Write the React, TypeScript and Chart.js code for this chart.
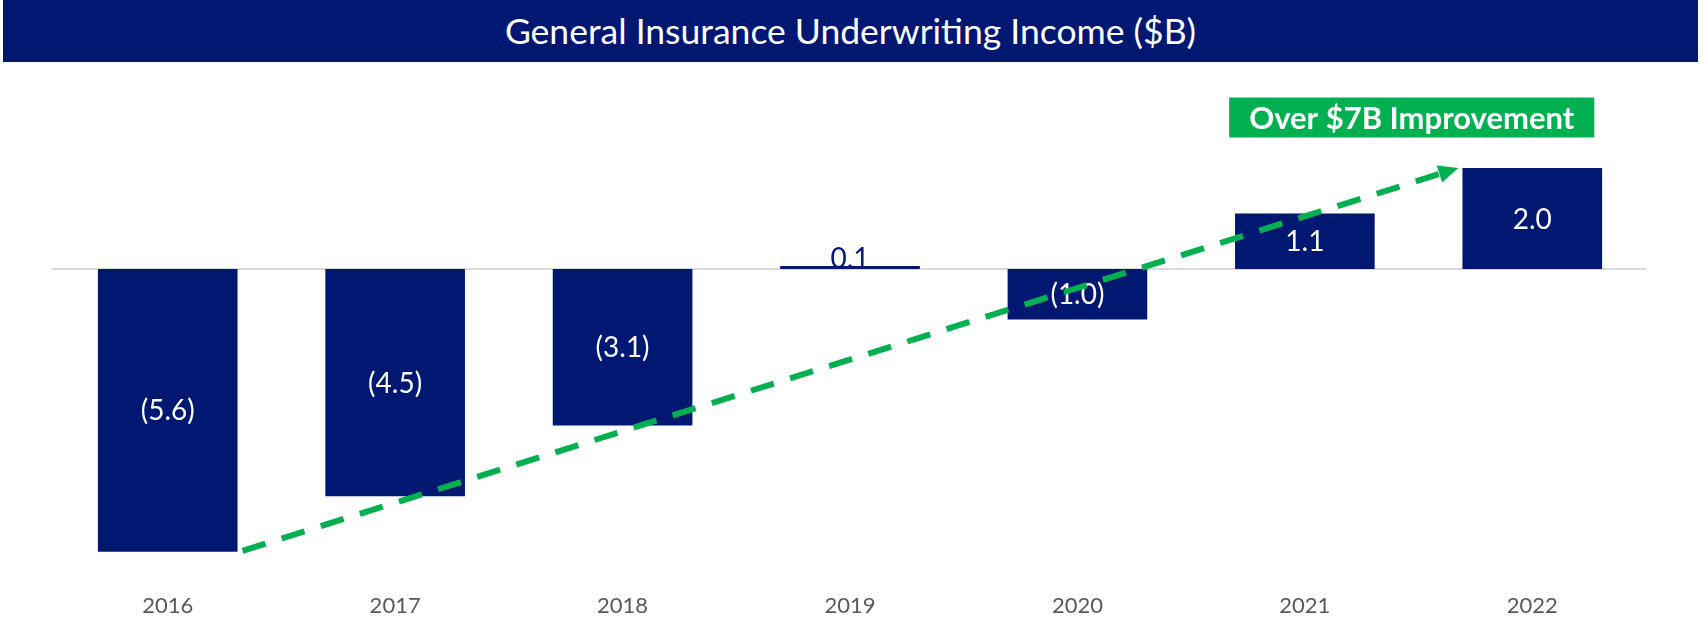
import React, { useEffect, useRef } from "react";
import { Chart, registerables } from "chart.js";

Chart.register(...registerables);

// ---- data ----
const years: string[] = ["2016", "2017", "2018", "2019", "2020", "2021", "2022"];
const income: number[] = [-5.6, -4.5, -3.1, 0.06, -1.0, 1.1, 2.0];
const titleText = "General Insurance Underwriting Income ($B)";
const calloutText = "Over $7B Improvement";
const calloutAnchor = { x: 5.47, y: 3.0 };
const yMin = -6;
const yMax = 4;

// ---- styles ----
const NAVY = "#001871";
const GREEN = "#00B050";
const FONT = "Lato, 'Noto Sans', sans-serif";

function fmt(v: number): string {
  const s = Math.abs(v).toFixed(1);
  return v < 0 ? `(${s})` : s;
}

const zeroLinePlugin = {
  id: "zeroLine",
  beforeDatasetsDraw(chart: any) {
    const { ctx, chartArea, scales } = chart;
    const y0 = scales.y.getPixelForValue(0);
    ctx.save();
    ctx.strokeStyle = "#D9D9D9";
    ctx.lineWidth = 2;
    ctx.beginPath();
    ctx.moveTo(chartArea.left - 2, y0);
    ctx.lineTo(chartArea.right, y0);
    ctx.stroke();
    ctx.restore();
  },
};

const valueLabelPlugin = {
  id: "valueLabels",
  afterDatasetsDraw(chart: any) {
    const { ctx } = chart;
    const meta = chart.getDatasetMeta(0);
    const data = chart.data.datasets[0].data as number[];
    ctx.save();
    ctx.font = `28px ${FONT}`;
    ctx.textAlign = "center";
    meta.data.forEach((el: any, i: number) => {
      const { x, y, base } = el.getProps(["x", "y", "base"], true);
      const h = Math.abs(base - y);
      const txt = fmt(data[i]);
      if (h > 30) {
        ctx.fillStyle = "#FFFFFF";
        ctx.textBaseline = "middle";
        ctx.fillText(txt, x, (y + base) / 2 + 1);
      } else {
        ctx.fillStyle = NAVY;
        ctx.textBaseline = "alphabetic";
        ctx.fillText(txt, x, Math.min(y, base) + 2);
      }
    });
    ctx.restore();
  },
};

const arrowPlugin = {
  id: "trendArrow",
  afterDraw(chart: any) {
    const { ctx, scales } = chart;
    const meta = chart.getDatasetMeta(0);
    const first = meta.data[0].getProps(["x", "y", "base", "width"], true);
    const last = meta.data[meta.data.length - 1].getProps(["x", "y", "base", "width"], true);
    const sx = first.x + first.width / 2 + 5;
    const sy = Math.max(first.y, first.base) - 1;
    const tx = last.x - last.width / 2 - 4;
    const ty = Math.min(last.y, last.base);
    const dx = tx - sx;
    const dy = ty - sy;
    const len = Math.hypot(dx, dy);
    const ux = dx / len;
    const uy = dy / len;
    const headL = 20;
    const headW = 9;
    const bx = tx - ux * headL;
    const by = ty - uy * headL;

    ctx.save();
    ctx.strokeStyle = GREEN;
    ctx.lineWidth = 6;
    ctx.setLineDash([24, 17]);
    ctx.beginPath();
    ctx.moveTo(sx, sy);
    ctx.lineTo(bx, by);
    ctx.stroke();
    ctx.setLineDash([]);
    ctx.fillStyle = GREEN;
    ctx.beginPath();
    ctx.moveTo(tx, ty);
    ctx.lineTo(bx - uy * headW, by + ux * headW);
    ctx.lineTo(bx + uy * headW, by - ux * headW);
    ctx.closePath();
    ctx.fill();

    // callout box
    const cx = scales.x.getPixelForValue(calloutAnchor.x);
    const cy = scales.y.getPixelForValue(calloutAnchor.y);
    ctx.font = `bold 31px ${FONT}`;
    const tw = ctx.measureText(calloutText).width;
    const bw = tw + 40;
    const bh = 40;
    ctx.fillStyle = GREEN;
    ctx.fillRect(cx - bw / 2, cy - bh / 2, bw, bh);
    ctx.fillStyle = "#FFFFFF";
    ctx.textAlign = "center";
    ctx.textBaseline = "middle";
    ctx.fillText(calloutText, cx, cy + 1);
    ctx.restore();
  },
};

export default function App() {
  const canvasRef = useRef<HTMLCanvasElement | null>(null);

  useEffect(() => {
    document.body.style.margin = "0";
    const canvas = canvasRef.current;
    if (!canvas) return;
    const chart = new Chart(canvas, {
      type: "bar",
      data: {
        labels: years,
        datasets: [
          {
            data: income,
            backgroundColor: NAVY,
            borderWidth: 0,
            barPercentage: 0.614,
            categoryPercentage: 1,
          },
        ],
      },
      options: {
        animation: false,
        responsive: false,
        devicePixelRatio: 1,
        layout: { padding: { left: 54, right: 55, top: 67, bottom: 0 } },
        plugins: {
          legend: { display: false },
          tooltip: { enabled: false },
          title: { display: false },
        },
        scales: {
          x: {
            grid: { display: false, drawTicks: false },
            border: { display: false },
            ticks: {
              color: "#595959",
              font: { family: FONT, size: 22 },
              padding: 21,
            },
            afterFit(axis: any) {
              axis.height = 49;
            },
          },
          y: {
            display: false,
            min: yMin,
            max: yMax,
          },
        },
      },
      plugins: [zeroLinePlugin, valueLabelPlugin, arrowPlugin],
    });
    return () => chart.destroy();
  }, []);

  return (
    <div style={{ position: "relative", width: 1701, height: 621, background: "#FFFFFF" }}>
      <canvas
        ref={canvasRef}
        width={1701}
        height={621}
        style={{ position: "absolute", left: 0, top: 0, display: "block" }}
      />
      <div
        style={{
          position: "absolute",
          left: 3,
          top: 0,
          width: 1695,
          height: 62,
          background: NAVY,
          color: "#FFFFFF",
          fontFamily: FONT,
          fontSize: 35.5,
          lineHeight: "62px",
          textAlign: "center",
          whiteSpace: "nowrap",
        }}
      >
        {titleText}
      </div>
    </div>
  );
}
